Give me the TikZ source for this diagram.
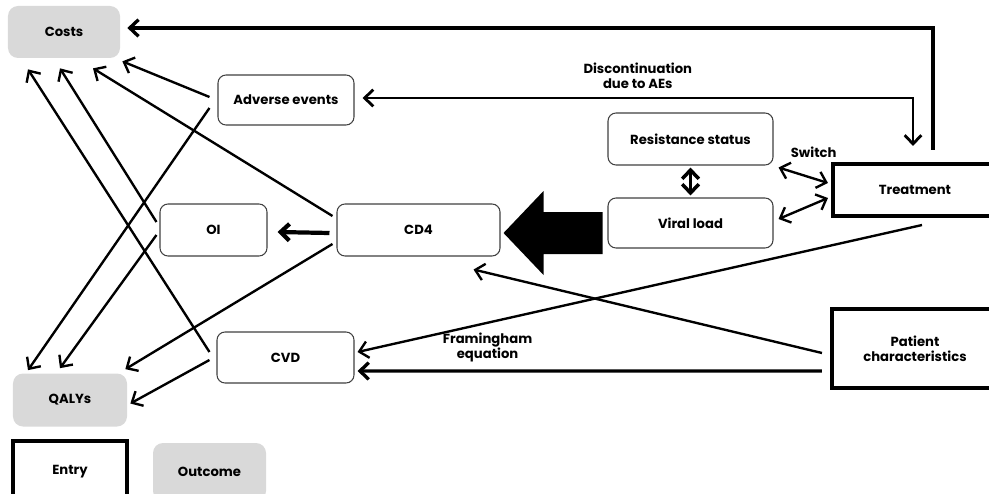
\documentclass[tikz,border=0pt]{standalone}
\usepackage{fontspec}
\setmainfont{Poppins}
\usetikzlibrary{arrows.meta, positioning}

\tikzset{
    event/.style={
        rectangle, rounded corners=0.16cm, draw=black!75, line width=0.6pt, fill=white, text centered
    },
    entry/.style={
        rectangle, draw=black, line width=2.3pt, fill=white, text centered
    },
    outcome/.style={
        rectangle, rounded corners=0.2cm, fill=gray!30, text centered
    },
    arrow/.style={
        line width=1.35pt, -{Straight Barb[length=5pt, width=9.5pt]}
    },
    twoway/.style={
        line width=1.35pt, {Straight Barb[length=5pt, width=9.5pt]}-{Straight Barb[length=5pt, width=9.5pt]}
    }
}

\begin{document}
\begin{tikzpicture}[x=0.2mm, y=-0.2mm, node distance=2cm, every node/.style={font=\bfseries\fontsize{7.5}{8.6}\selectfont, align=center}]
    \useasboundingbox (0,0) rectangle (989,493);

    % Nodes
    \node (costs) [outcome, minimum width=2.24cm, minimum height=1.04cm] at (64,32) {Costs};
    \node (ae) [event, minimum width=2.72cm, minimum height=1cm] at (286,100) {Adverse events};
    \node (oi) [event, minimum width=2.14cm, minimum height=1.04cm] at (213.5,230) {OI};
    \node (cd4) [event, right of=oi, xshift=2.1cm, minimum width=3.26cm, minimum height=1.04cm] {CD4};
    \node (viral) [event, minimum width=3.3cm, minimum height=1cm] at (690.5,223) {Viral load};
    \node (res) [event, above of=viral, yshift=-0.32cm, minimum width=3.3cm, minimum height=1.04cm] {Resistance status};
    \node (treat) [entry, minimum width=3.28cm, minimum height=1.04cm] at (915,190) {Treatment};
    \node (patient) [entry, below of=treat, yshift=-1.17cm, minimum width=3.32cm, minimum height=1.58cm] {Patient\\characteristics};
    \node (cvd) [event, minimum width=2.74cm, minimum height=1.02cm] at (285.5,357.5) {CVD};
    \node (qalys) [outcome, minimum width=2.28cm, minimum height=1.06cm] at (70,400) {QALYs};
    \node (entry) [entry, below of=qalys, yshift=0.56cm, minimum width=2.28cm, minimum height=1.24cm] {Entry};
    \node (outcome) [outcome, right of=entry, xshift=0.79cm, minimum width=2.26cm, minimum height=1.16cm] {Outcome};

    % Treatment loop
    \draw [arrow, line width=1.9pt] ([xshift=0.36cm, yshift=0.24cm]treat.north) |- ([xshift=0.14cm, yshift=0.08cm]costs.east);
    \draw [twoway, line width=1.6pt] ([xshift=0.16cm, yshift=0.04cm]ae.east) -| node[pos=0.25, above=1pt] (disc) {Discontinuation\\due to AEs} ([xshift=-0.04cm, yshift=0.32cm]treat.north);
    \draw [twoway] ([xshift=0.1cm, yshift=-0.04cm]res.south east) -- node[pos=0.71, above=0.28cm] (switch) {Switch} ([xshift=-0.06cm, yshift=0.14cm]treat.west);
    \draw [twoway] ([xshift=0.1cm, yshift=0.08cm]viral.east) -- ([xshift=-0.06cm, yshift=-0.16cm]treat.west);
    \draw [twoway, line width=2pt] ([yshift=-0.04cm]res.south) -- ([yshift=0.04cm]viral.north);

    % Viral load to CD4
    \fill ([xshift=0.06cm, yshift=-0.06cm]cd4.east) -- ++(40,-42) -- ++(0,21) -- ++(59,0) -- ++(0,42) -- ++(-59,0) -- ++(0,21) -- cycle;
    \draw [arrow, line width=2.4pt] ([xshift=-0.14cm, yshift=-0.06cm]cd4.west) -- ([xshift=0.2cm, yshift=-0.04cm]oi.east);

    % To costs
    \draw [arrow] ([xshift=-0.16cm, yshift=0.06cm]ae.west) -- ([xshift=0.04cm, yshift=-0.06cm]costs.south east);
    \draw [arrow] ([xshift=-0.08cm, yshift=0.28cm]cd4.west) -- ([xshift=0.58cm, yshift=-0.2cm]costs.south);
    \draw [arrow] ([xshift=-0.06cm, yshift=0.16cm]oi.west) -- ([xshift=-0.08cm, yshift=-0.2cm]costs.south);
    \draw [arrow] ([xshift=-0.14cm, yshift=0.11cm]cvd.west) -- ([xshift=-0.72cm, yshift=-0.22cm]costs.south);

    % To QALYs
    \draw [arrow] ([xshift=-0.16cm, yshift=-0.16cm]ae.west) -- ([xshift=-0.84cm, yshift=0.06cm]qalys.north);
    \draw [arrow] ([xshift=-0.06cm, yshift=-0.1cm]oi.west) -- ([xshift=-0.2cm, yshift=0.1cm]qalys.north);
    \draw [arrow] ([xshift=-0.08cm, yshift=-0.28cm]cd4.west) -- ([xshift=-0.04cm, yshift=0.08cm]qalys.north east);
    \draw [arrow] ([xshift=-0.14cm, yshift=-0.05cm]cvd.west) -- ([xshift=0.06cm, yshift=-0.07cm]qalys.east);

    % From entry boxes
    \draw [arrow] ([xshift=0.14cm, yshift=-0.14cm]treat.south) -- ([xshift=0.06cm, yshift=0.11cm]cvd.east);
    \draw [arrow] ([xshift=-0.16cm, yshift=-0.09cm]patient.west) -- ([xshift=-0.54cm, yshift=-0.26cm]cd4.south east);
    \draw [arrow, line width=1.9pt] ([xshift=-0.16cm, yshift=-0.45cm]patient.west) -- node[pos=0.72, above=1pt] (fram) {Framingham\\equation} ([xshift=0.06cm, yshift=-0.27cm]cvd.east);
\end{tikzpicture}
\end{document}
